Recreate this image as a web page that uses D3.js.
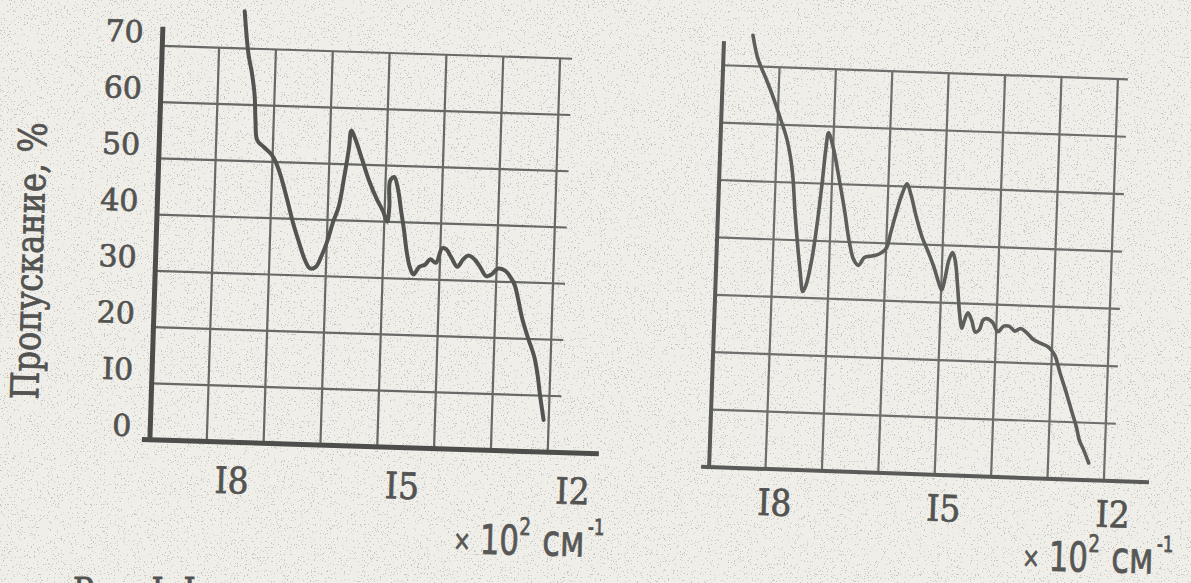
<!DOCTYPE html>
<html>
<head>
<meta charset="utf-8">
<script src="https://cdn.jsdelivr.net/npm/d3@7"></script>
<style>
  html, body { margin: 0; padding: 0; background: #efeee8; }
  svg { display: block; }
</style>
</head>
<body>
<svg id="chart" width="1191" height="583"></svg>
<script>
// Wavenumber (x10^2 cm-1) and transmission (%), left spectrum
var waveLeft = [17.57, 17.48, 17.41, 17.35, 17.32, 17.28, 17.16, 17.02, 16.94, 16.84, 16.72, 16.61, 16.50, 16.38, 16.28, 16.18, 16.08, 15.99, 15.90, 15.81, 15.73, 15.66, 15.63, 15.55, 15.43, 15.29, 15.14, 15.03, 14.95, 14.92, 14.92, 14.85, 14.78, 14.71, 14.65, 14.59, 14.53, 14.46, 14.36, 14.26, 14.17, 14.07, 13.97, 13.90, 13.80, 13.69, 13.59, 13.50, 13.39, 13.29, 13.18, 13.08, 12.98, 12.85, 12.74, 12.67, 12.60, 12.52, 12.41, 12.29, 12.22, 12.17, 12.09];
var transLeft = [76.6, 69.0, 65.7, 61.8, 57.2, 53.8, 52.6, 51.3, 50.0, 47.4, 43.4, 39.5, 36.2, 32.9, 31.3, 31.6, 33.7, 36.3, 39.7, 42.4, 47.7, 53.0, 56.0, 54.4, 51.1, 47.2, 43.9, 41.9, 40.0, 42.6, 47.3, 48.0, 46.0, 42.0, 38.7, 34.8, 32.2, 30.8, 32.2, 32.6, 33.6, 33.0, 35.6, 35.5, 34.0, 32.4, 33.8, 34.5, 33.8, 32.5, 30.9, 31.3, 32.3, 32.0, 30.7, 29.4, 26.8, 23.5, 20.2, 16.9, 13.6, 10.3, 5.7];

// right spectrum
var waveRight = [18.49, 18.39, 18.24, 18.10, 17.95, 17.83, 17.75, 17.69, 17.64, 17.58, 17.51, 17.45, 17.40, 17.31, 17.24, 17.17, 17.13, 17.09, 16.99, 16.87, 16.76, 16.66, 16.57, 16.48, 16.38, 16.25, 16.12, 16.00, 15.93, 15.85, 15.76, 15.67, 15.59, 15.48, 15.37, 15.25, 15.14, 15.05, 14.99, 14.94, 14.88, 14.82, 14.77, 14.71, 14.66, 14.61, 14.57, 14.51, 14.44, 14.37, 14.30, 14.24, 14.18, 14.07, 13.97, 13.87, 13.77, 13.67, 13.57, 13.47, 13.33, 13.19, 13.06, 12.95, 12.84, 12.72, 12.61, 12.52, 12.46, 12.38, 12.28];
var transRight = [75.4, 71.4, 68.1, 64.9, 61.0, 57.7, 54.4, 50.5, 45.2, 40.0, 34.7, 31.1, 32.1, 36.7, 42.7, 50.6, 55.9, 58.9, 56.0, 50.7, 45.5, 40.2, 37.0, 36.0, 37.4, 37.7, 38.1, 39.1, 41.8, 45.1, 48.4, 50.5, 48.5, 44.6, 41.3, 38.7, 36.1, 33.5, 32.2, 34.2, 37.5, 38.8, 37.5, 32.9, 28.3, 25.7, 27.0, 28.4, 27.1, 25.1, 25.5, 27.2, 27.5, 26.9, 25.3, 26.3, 26.3, 25.5, 26.0, 25.4, 24.1, 23.5, 22.9, 21.6, 18.4, 15.1, 11.8, 9.2, 6.9, 5.3, 3.0];

// grid and tick labels (typewriter uses "I" for "1")
var gridWaves = [18, 17, 16, 15, 14, 13, 12];
var gridTrans = [10, 20, 30, 40, 50, 60, 70];
var yTicks = [0, 10, 20, 30, 40, 50, 60, 70];
var yTickLabels = ["0", "I0", "20", "30", "40", "50", "60", "70"];
var xTicks = [18, 15, 12];
var xTickLabels = ["I8", "I5", "I2"];

var svg = d3.select("#chart");
var typeFont = "'DejaVu Serif', 'Liberation Serif', serif";
var sansFont = "'DejaVu Sans', 'Noto Sans', sans-serif";
var inkColor = "#535351";

// paper grain: sparse dark specks
var defs = svg.append("defs");
var grain = defs.append("filter").attr("id", "grain")
    .attr("x", 0).attr("y", 0).attr("width", "100%").attr("height", "100%");
grain.append("feTurbulence")
    .attr("type", "fractalNoise").attr("baseFrequency", 0.7)
    .attr("numOctaves", 2).attr("seed", 7).attr("result", "n");
grain.append("feColorMatrix").attr("in", "n").attr("type", "matrix")
    .attr("values", "0 0 0 0 0.42  0 0 0 0 0.42  0 0 0 0 0.4  30 0 0 0 -19.8");

svg.append("rect").attr("width", 1191).attr("height", 583).attr("fill", "#efeee8");
svg.append("rect").attr("width", 1191).attr("height", 583).attr("fill", "#000")
    .attr("filter", "url(#grain)").attr("opacity", 0.6);

// typewriter-looking text: serif glyphs, slightly inked
function typeText(sel, size) {
    return sel.attr("font-family", typeFont)
        .attr("font-size", size + "px")
        .attr("fill", inkColor)
        .attr("stroke", inkColor).attr("stroke-width", 0.7);
}

// Function to draw one spectrum panel (the scan is a little rotated)
function drawPanel(opt) {
    var x = d3.scaleLinear().domain([19, 12]).range(opt.xRange);
    var y = d3.scaleLinear().domain([0, 70]).range(opt.yRange);
    var cx = (opt.xRange[0] + opt.xRange[1]) / 2,
        cy = (opt.yRange[0] + opt.yRange[1]) / 2;
    var g = svg.append("g")
        .attr("transform", "rotate(" + opt.tilt + "," + cx + "," + cy + ")");

    // grid
    g.selectAll(".hgrid").data(gridTrans).enter().append("line")
        .attr("x1", x(19)).attr("x2", x(12) + opt.gridOver)
        .attr("y1", function (d) { return y(d); })
        .attr("y2", function (d) { return y(d); })
        .attr("stroke", opt.gridColor).attr("stroke-width", 2.2);
    g.selectAll(".vgrid").data(gridWaves).enter().append("line")
        .attr("x1", function (d) { return x(d); })
        .attr("x2", function (d) { return x(d); })
        .attr("y1", y(0)).attr("y2", y(70))
        .attr("stroke", opt.gridColor).attr("stroke-width", 2.2);

    // axes
    g.append("line")
        .attr("x1", x(19)).attr("x2", x(19))
        .attr("y1", y(0) + 2).attr("y2", y(opt.axisTop))
        .attr("stroke", opt.axisColor).attr("stroke-width", opt.axisWidth);
    g.append("line")
        .attr("x1", x(19) - 8).attr("x2", x(opt.axisRight))
        .attr("y1", y(0)).attr("y2", y(0))
        .attr("stroke", opt.axisColor).attr("stroke-width", opt.axisWidth);

    // x tick labels
    typeText(g.selectAll(".xlab").data(xTicks).enter().append("text"), 33)
        .attr("transform", function (d) {
            return "translate(" + (x(d) + opt.xLabelDx) + "," + (y(0) + opt.xLabelDy) + ") scale(1,1.1)";
        })
        .attr("text-anchor", "middle")
        .text(function (d, i) { return xTickLabels[i]; });

    // curve
    var pts = opt.waves.map(function (w, i) { return [w, opt.trans[i]]; });
    var line = d3.line()
        .x(function (d) { return x(d[0]); })
        .y(function (d) { return y(d[1]); })
        .curve(d3.curveCatmullRom.alpha(0.5));
    g.append("path").datum(pts)
        .attr("d", line)
        .attr("fill", "none")
        .attr("stroke", opt.lineColor).attr("stroke-width", opt.lineWidth)
        .attr("stroke-linejoin", "round").attr("stroke-linecap", "round");

    // axis unit label: x 10^2 cm^-1
    var t = svg.append("text")
        .attr("transform", "translate(" + opt.unitPos[0] + "," + opt.unitPos[1] + ") rotate(1.5) scale(0.75,1)")
        .attr("font-family", sansFont).attr("fill", "#575755")
        .attr("stroke", "#575755").attr("stroke-width", 0.8);
    t.append("tspan").attr("font-size", "28px").attr("dy", -3).text("\u00d7");
    t.append("tspan").attr("font-size", "41px").attr("dx", 12).attr("dy", 3).text("10");
    t.append("tspan").attr("font-size", "24px").attr("dy", -20).text("2");
    t.append("tspan").attr("font-size", "43px").attr("dy", 20).attr("dx", 16).text("см");
    t.append("tspan").attr("font-size", "22px").attr("dy", -22).attr("dx", 4).text("-1");

    return { x: x, y: y, g: g };
}

var left = drawPanel({
    xRange: [156, 554], yRange: [446, 52], tilt: 1.8, gridOver: 12,
    axisTop: 73.4, axisRight: 11.1,
    waves: waveLeft, trans: transLeft,
    gridColor: "#686866", axisColor: "#4d4d4b", axisWidth: 5,
    lineColor: "#545452", lineWidth: 4,
    xLabelDx: 26, xLabelDy: 51, unitPos: [453, 553]
});

var right = drawPanel({
    xRange: [716, 1111], yRange: [474, 72], tilt: 2.0, gridOver: 10,
    axisTop: 74.2, axisRight: 11.2,
    waves: waveRight, trans: transRight,
    gridColor: "#6e6e6c", axisColor: "#5a5a58", axisWidth: 4,
    lineColor: "#5e5e5c", lineWidth: 3.6,
    xLabelDx: 10, xLabelDy: 46, unitPos: [1022, 570]
});

// y tick labels on the left panel only
typeText(left.g.selectAll(".ylab").data(yTicks).enter().append("text"), 30)
    .attr("transform", function (d) {
        return "translate(137," + (left.y(d) - 3) + ")";
    })
    .attr("text-anchor", "end")
    .text(function (d, i) { return yTickLabels[i]; });

// y title
typeText(left.g.append("text"), 32)
    .attr("transform", "translate(43,271) rotate(-90) scale(1,1.2)")
    .attr("text-anchor", "middle")
    .text("Пропускание, %");

// caption, cut by the bottom edge of the scan
typeText(svg.append("text"), 31)
    .attr("transform", "translate(73,604) scale(1,1.2)")
    .text("Рис. I. I");
</script>
</body>
</html>
